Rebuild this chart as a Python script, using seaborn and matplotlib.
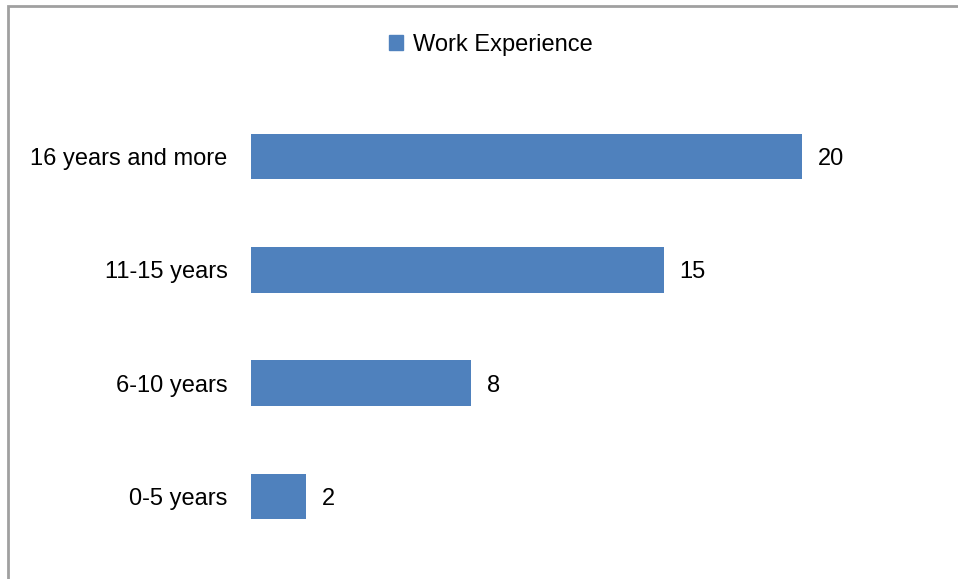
import matplotlib
matplotlib.use("Agg")
import matplotlib.pyplot as plt
import matplotlib.patches as mpatches
import seaborn as sns
import pandas as pd

categories = ["16 years and more", "11-15 years", "6-10 years", "0-5 years"]
values = [20, 15, 8, 2]
series_name = "Work Experience"

bar_color = "#4F81BD"

sns.set_theme(style="white")
plt.rcParams["font.family"] = ["Liberation Sans", "DejaVu Sans"]
plt.rcParams["text.color"] = "black"

df = pd.DataFrame({"category": categories, "value": values})

fig = plt.figure(figsize=(9.58, 5.79), dpi=100)
ax = fig.add_axes([251 / 958, 1 - 553 / 579, 689 / 958, 453 / 579])

sns.barplot(data=df, y="category", x="value", orient="h", color=bar_color,
            saturation=1, width=0.4, ax=ax, order=categories, linewidth=0,
            edgecolor="none")

ax.set_xlim(0, 25)
ax.set_ylim(3.5, -0.5)
ax.set_xlabel("")
ax.set_ylabel("")
ax.set_xticks([])
ax.tick_params(axis="y", length=0, pad=17, labelsize=17, labelcolor="black")
for s in ax.spines.values():
    s.set_visible(False)

# value labels next to each bar, vertically centred on the bar
for i, v in enumerate(values):
    ax.annotate(str(v), xy=(v, i), xytext=(11, 0), textcoords="offset points",
                ha="left", va="center_baseline", fontsize=17, color="black")

handle = mpatches.Patch(color=bar_color, label=series_name)
leg = fig.legend(handles=[handle], loc="center",
                 bbox_to_anchor=(491 / 958, 1 - 45 / 579),
                 frameon=False, fontsize=17, handlelength=0.6, handleheight=0.6,
                 handletextpad=0.4)
for t in leg.get_texts():
    t.set_color("black")

# chart frame
frame = mpatches.Rectangle((7.5 / 958, -0.1), 1.2, 1.1 - 6.5 / 579,
                           transform=fig.transFigure, fill=False,
                           edgecolor="#A0A0A0", linewidth=2)
fig.patches.append(frame)

fig.savefig("out.png", dpi=100, facecolor="white")
